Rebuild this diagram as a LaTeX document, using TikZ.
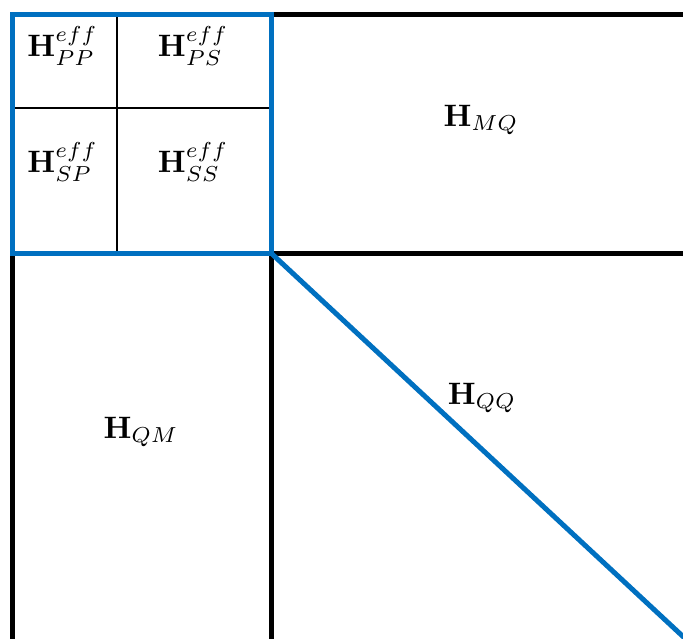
\documentclass[tikz,border=0pt]{standalone}
\usepackage{amsmath}
\definecolor{offblue}{RGB}{0,112,192}
\newcommand{\hlabel}[1]{\scalebox{3.1}{$#1$}}
\begin{document}
\begin{tikzpicture}[x=1pt,y=-1pt,
  thickline/.style={line width=5pt,black},
  thinline/.style={line width=2pt,black},
  blueline/.style={line width=5pt,offblue},
  lbl/.style={inner sep=0pt}]
\useasboundingbox (0,0) rectangle (683,638);
\coordinate (tl) at (12,14);
\coordinate (tr) at (271.5,14);
\coordinate (br) at (271.5,253.5);
\coordinate (bl) at (12,253.5);
\coordinate (midtop) at (117,14);
\coordinate (midbot) at (117,253.5);
\coordinate (midl) at (12,108);
\coordinate (midr) at (271.5,108);
\coordinate (rtop) at (690,14);
\coordinate (rmid) at (690,253.5);
\coordinate (lbot) at (12,645);
\coordinate (cbot) at (271.5,645);
\coordinate (diagend) at (690,643);
\begin{scope}
\clip (0,0) rectangle (683,638);
\draw[thickline] (tr) -- (rtop);
\draw[thickline] (br) -- (rmid);
\draw[thickline] (bl) -- (lbot);
\draw[thickline] (br) -- (cbot);
\draw[thinline] (midtop) -- (midbot);
\draw[thinline] (midl) -- (midr);
\draw[blueline] (br) -- (diagend);
\draw[blueline] (tl) rectangle (br);
\end{scope}
\node[lbl] (pp) at (62.5,46) {\hlabel{\mathbf{H}_{PP}^{eff}}};
\node[lbl] (ps) at (193,46) {\hlabel{\mathbf{H}_{PS}^{eff}}};
\node[lbl] (sp) at (62.5,162) {\hlabel{\mathbf{H}_{SP}^{eff}}};
\node[lbl] (ss) at (193,162) {\hlabel{\mathbf{H}_{SS}^{eff}}};
\node[lbl] (mq) at (481,120) {\hlabel{\mathbf{H}_{MQ}}};
\node[lbl] (qq) at (482,398) {\hlabel{\mathbf{H}_{QQ}}};
\node[lbl] (qm) at (141,432) {\hlabel{\mathbf{H}_{QM}}};
\end{tikzpicture}
\end{document}
